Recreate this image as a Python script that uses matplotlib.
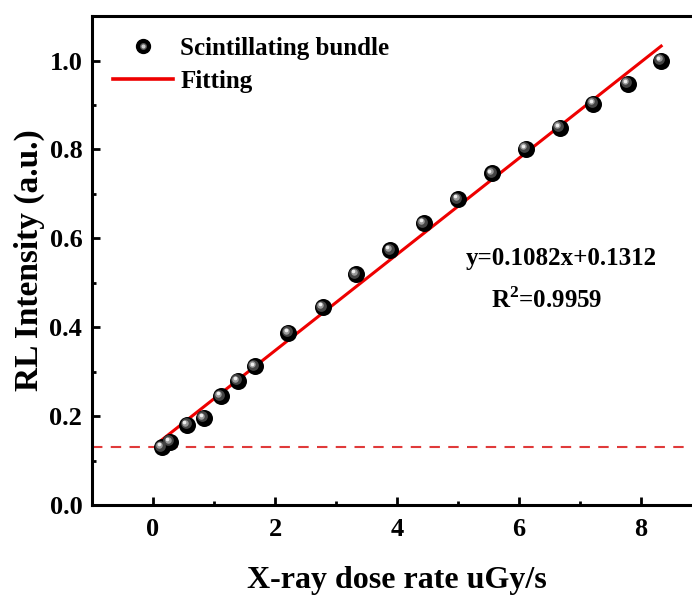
import numpy as np
import matplotlib
matplotlib.use("Agg")
import matplotlib.pyplot as plt
from matplotlib.transforms import offset_copy
from matplotlib.lines import Line2D
from matplotlib.legend_handler import HandlerTuple

# --- data ---
dose_rate = [0.14, 0.28, 0.56, 0.83, 1.11, 1.39, 1.67, 2.22, 2.78, 3.33,
             3.89, 4.44, 5.00, 5.56, 6.11, 6.67, 7.22, 7.78, 8.33]
rl_intensity = [0.130, 0.142, 0.180, 0.196, 0.245, 0.279, 0.312, 0.387, 0.445, 0.519,
                0.573, 0.634, 0.688, 0.746, 0.802, 0.849, 0.903, 0.948, 1.000]
slope, intercept = 0.1082, 0.1312
baseline = 0.13
x_ticks = [0, 2, 4, 6, 8]
y_ticks = [0.0, 0.2, 0.4, 0.6, 0.8, 1.0]

plt.rcParams['font.family'] = ['Liberation Serif', 'DejaVu Serif']
plt.rcParams['font.weight'] = 'bold'
plt.rcParams['mathtext.fontset'] = 'custom'
plt.rcParams['mathtext.rm'] = 'Liberation Serif:bold'
plt.rcParams['mathtext.bf'] = 'Liberation Serif:bold'

fig = plt.figure(figsize=(6.92, 5.95), dpi=100)
ax = fig.add_axes([0.133, 0.151, 0.8815, 0.822])

x = np.array(dose_rate)
y = np.array(rl_intensity)

# baseline dashed
ax.axhline(baseline, color='#e03a3a', lw=1.5, ls=(0, (5, 4)), zorder=1)

# fit line
xf = np.array([x[0], x[-1]])
ax.plot(xf, slope * xf + intercept, color='#ee0000', lw=2.2, zorder=2)

# sphere-like markers: dark base + lighter highlights offset up-left
ax.scatter(x, y, s=150, color='black', zorder=3, linewidths=0)
for dpt, size, col in [(1.2, 60, '#444444'), (1.8, 22, '#999999'), (2.1, 7, '#eeeeee')]:
    tr = offset_copy(ax.transData, fig=fig, x=-dpt, y=dpt, units='points')
    ax.scatter(x, y, s=size, color=col, zorder=4, linewidths=0, transform=tr)

ax.set_xlim(-1, 9)
ax.set_ylim(0, 1.1)
ax.set_xticks(x_ticks)
ax.set_yticks(y_ticks)
ax.set_xticks([1, 3, 5, 7], minor=True)
ax.set_yticks([0.1, 0.3, 0.5, 0.7, 0.9], minor=True)
ax.set_yticklabels([f"{v:.1f}" for v in y_ticks])

ax.tick_params(which='both', direction='in', top=False, right=False, width=2, labelsize=19)
ax.tick_params(which='major', length=6)
ax.tick_params(which='minor', length=3)
ax.tick_params(axis='x', pad=9)
ax.tick_params(axis='y', pad=7)
for s in ax.spines.values():
    s.set_linewidth(2.2)

ax.set_xlabel('X-ray dose rate uGy/s', fontsize=23, fontweight='bold', labelpad=18)
ax.set_ylabel('RL Intensity (a.u.)', fontsize=24, fontweight='bold', labelpad=3)

# legend
h_pt = (Line2D([], [], ls='none', marker='o', ms=10, color='black'),
        Line2D([], [], ls='none', marker='o', ms=4, color='#555555'),
        Line2D([], [], ls='none', marker='o', ms=2, color='#cccccc'))
h_ln = Line2D([], [], color='#ee0000', lw=2.6)
ax.legend([h_pt, h_ln], ['Scintillating bundle', 'Fitting'],
          handler_map={tuple: HandlerTuple(ndivide=1)},
          loc='upper left', frameon=False, fontsize=18, handlelength=2.4,
          handletextpad=0.3, labelspacing=0.42, borderaxespad=0, borderpad=0,
          bbox_to_anchor=(0.034, 0.958))

ax.text(6.7, 0.555, 'y=0.1082x+0.1312', fontsize=18, fontweight='bold',
        ha='center', va='center')
ax.text(6.45, 0.46, r'R$^{\mathbf{2}}$=0.9959', fontsize=18, fontweight='bold',
        ha='center', va='center')

fig.savefig('out.png', dpi=100)
